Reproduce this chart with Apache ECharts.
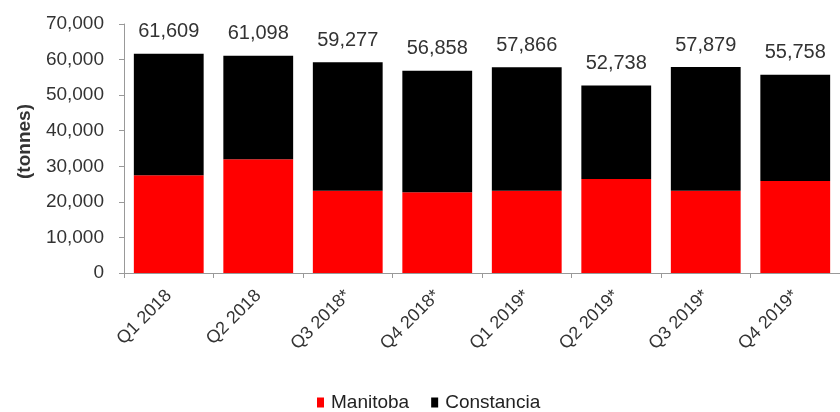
<!DOCTYPE html>
<html>
<head>
<meta charset="utf-8">
<script src="https://cdn.jsdelivr.net/npm/echarts@6/dist/echarts.min.js"></script>
<style>
  html, body { margin: 0; padding: 0; background: #fff; }
  #chart { width: 840px; height: 412px; }
</style>
</head>
<body>
<div id="chart"></div>
<script>
// 季度产量 (tonnes)
const categories = ['Q1 2018', 'Q2 2018', 'Q3 2018*', 'Q4 2018*', 'Q1 2019*', 'Q2 2019*', 'Q3 2019*', 'Q4 2019*'];
const manitoba = [27500, 32000, 23100, 22700, 23100, 26400, 23100, 25850];
const constancia = [34109, 29098, 36177, 34158, 34766, 26338, 34779, 29908];
const totals = [61609, 61098, 59277, 56858, 57866, 52738, 57879, 55758];
const yTicks = [0, 10000, 20000, 30000, 40000, 50000, 60000, 70000];

const fmt = v => v.toLocaleString('en-US');

const chart = echarts.init(document.getElementById('chart'));
chart.setOption({
  animation: false,
  textStyle: { fontFamily: 'Liberation Sans, Arial, sans-serif' },
  grid: { left: 124, right: 0, top: 24, bottom: 139 },
  legend: {
    top: 388,
    left: 312,
    itemWidth: 7,
    itemHeight: 10,
    itemGap: 22,
    icon: 'rect',
    textStyle: { fontSize: 19, color: '#222', padding: [0, 0, 0, 2] },
    data: ['Manitoba', 'Constancia']
  },
  xAxis: {
    type: 'category',
    data: categories,
    axisLine: { lineStyle: { color: '#999' } },
    axisTick: { show: true, length: 5, lineStyle: { color: '#999' } },
    axisLabel: { rotate: 45, fontSize: 18, color: '#333', margin: 20 }
  },
  yAxis: {
    type: 'value',
    min: yTicks[0],
    max: yTicks[yTicks.length - 1],
    interval: 10000,
    name: '(tonnes)',
    nameLocation: 'middle',
    nameRotate: 90,
    nameGap: 90,
    nameTextStyle: { fontSize: 19, fontWeight: 'bold', color: '#333', padding: [0, 0, 0, 14] },
    splitLine: { show: false },
    axisLine: { show: true, lineStyle: { color: '#999' } },
    axisTick: { show: true, length: 5, lineStyle: { color: '#999' } },
    axisLabel: { fontSize: 19, color: '#333', margin: 20, formatter: v => fmt(v) }
  },
  series: [
    {
      name: 'Manitoba',
      type: 'bar',
      stack: 'total',
      data: manitoba,
      barCategoryGap: '22%',
      itemStyle: { color: '#ff0000' }
    },
    {
      name: 'Constancia',
      type: 'bar',
      stack: 'total',
      data: constancia,
      itemStyle: { color: '#000000' },
      label: {
        show: true,
        position: 'top',
        distance: 12,
        fontSize: 20,
        color: '#333',
        formatter: p => fmt(totals[p.dataIndex])
      }
    }
  ]
});
</script>
</body>
</html>
